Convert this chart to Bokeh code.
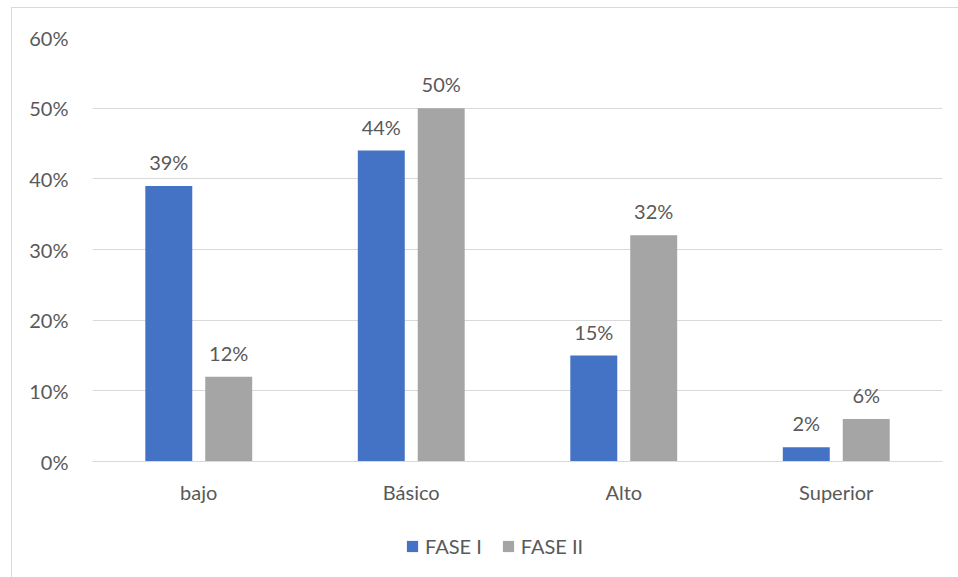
from bokeh.plotting import figure
from bokeh.layouts import column
from bokeh.models import ColumnDataSource, FactorRange, Legend, LegendItem, LabelSet, NumeralTickFormatter, FixedTicker
from bokeh.core.properties import value
from bokeh.transform import dodge
from bokeh.embed import file_html
from bokeh.resources import INLINE

categories = ["bajo", "Básico", "Alto", "Superior"]
fase1 = [0.39, 0.44, 0.15, 0.02]
fase2 = [0.12, 0.50, 0.32, 0.06]
series_names = ["FASE I", "FASE II"]
colors = ["#4472C4", "#A5A5A5"]

src = ColumnDataSource(dict(
    cat=categories,
    f1=fase1, f2=fase2,
    l1=[f"{round(v*100)}%" for v in fase1],
    l2=[f"{round(v*100)}%" for v in fase2],
))

FONT = "Lato"
TXT = "#595959"
FS = "20px"
EDGE = "#d9d9d9"

main_bg = (f"linear-gradient({EDGE},{EDGE}) 11px 7px / 1px 100% no-repeat, "
           f"linear-gradient({EDGE},{EDGE}) 11px 7px / 100% 1px no-repeat, white")
leg_bg = f"linear-gradient({EDGE},{EDGE}) 11px 0px / 1px 100% no-repeat, white"

p = figure(x_range=FactorRange(*categories), y_range=(0, 0.6),
           width=958, height=520, output_backend="svg", toolbar_location=None,
           min_border_left=92, min_border_right=16, min_border_top=37, min_border_bottom=59,
           outline_line_color=None, styles={"background": main_bg})
p.x_range.range_padding = 0
p.background_fill_color = "white"
p.border_fill_alpha = 0

off = 0.141
w = 0.221
r1 = p.vbar(x=dodge("cat", -off, range=p.x_range), top="f1", width=w, source=src, color=colors[0], line_color=None)
r2 = p.vbar(x=dodge("cat", off, range=p.x_range), top="f2", width=w, source=src, color=colors[1], line_color=None)

for col, lab, o in (("f1", "l1", -off), ("f2", "l2", off)):
    ls = LabelSet(x=dodge("cat", o, range=p.x_range), y=col, text=lab, source=src,
                  text_align="center", text_baseline="bottom", y_offset=12,
                  text_font=value(FONT), text_font_size=value(FS), text_color=TXT)
    p.add_layout(ls)

p.yaxis.ticker = FixedTicker(ticks=[0, 0.1, 0.2, 0.3, 0.4, 0.5, 0.6])
p.yaxis.formatter = NumeralTickFormatter(format="0%")
for ax in (p.xaxis[0], p.yaxis[0]):
    ax.major_tick_line_color = None
    ax.minor_tick_line_color = None
    ax.major_label_text_font = FONT
    ax.major_label_text_font_size = FS
    ax.major_label_text_color = TXT
p.yaxis.axis_line_color = None
p.yaxis.major_label_standoff = 18
p.xaxis.axis_line_color = EDGE
p.xaxis.major_label_standoff = 12
p.xgrid.grid_line_color = None
p.ygrid.grid_line_color = EDGE
p.ygrid.grid_line_width = 1

# legend strip below the chart: same series drawn out of its visible y-range,
# so only their legend swatches show
leg = figure(width=958, height=57, output_backend="svg", toolbar_location=None,
             min_border=0, outline_line_color=None,
             x_range=FactorRange(*categories), y_range=(10, 11),
             styles={"background": leg_bg})
leg.axis.visible = False
leg.grid.visible = False
leg.background_fill_alpha = 0
leg.border_fill_alpha = 0
g1 = leg.vbar(x="cat", top="f1", width=w, source=src, color=colors[0], line_color=None)
g2 = leg.vbar(x="cat", top="f2", width=w, source=src, color=colors[1], line_color=None)
legend = Legend(items=[LegendItem(label=series_names[0], renderers=[g1]),
                       LegendItem(label=series_names[1], renderers=[g2])],
                orientation="horizontal", location=(313, 19),
                glyph_width=14, glyph_height=14, label_standoff=6, spacing=19,
                label_text_font=FONT, label_text_font_size=FS, label_text_color=TXT,
                border_line_color=None, background_fill_alpha=0, margin=0, padding=0)
leg.add_layout(legend)

layout = column(p, leg, spacing=0)
open("out.html", "w").write(file_html(layout, INLINE))
